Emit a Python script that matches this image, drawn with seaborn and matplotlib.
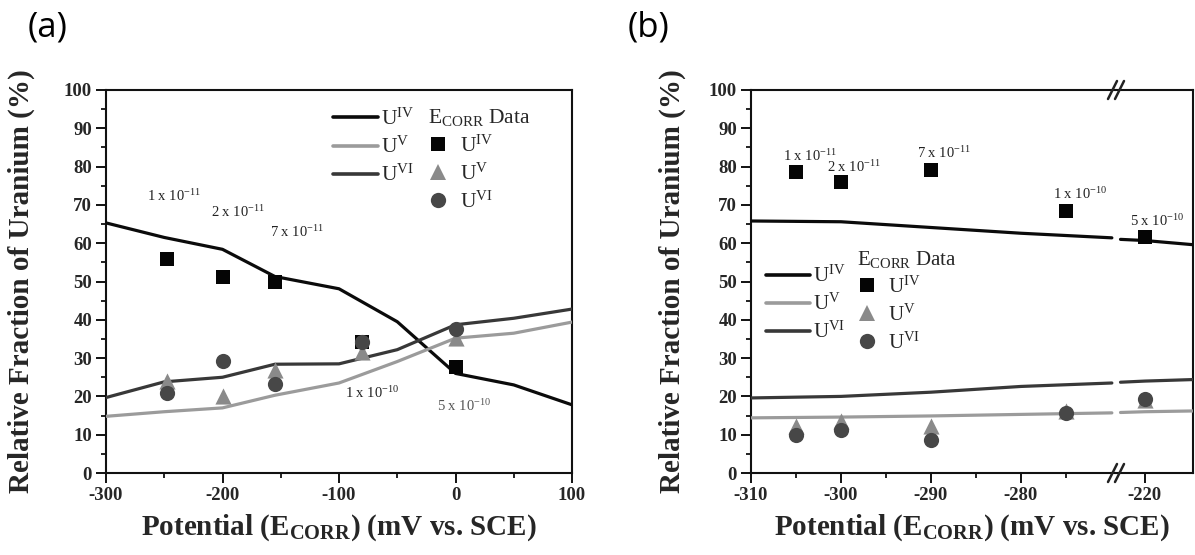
import numpy as np
import pandas as pd
import matplotlib
matplotlib.use("Agg")
import matplotlib.pyplot as plt
from matplotlib.lines import Line2D
from matplotlib.ticker import FixedLocator
import seaborn as sns

sns.set_theme(style="ticks")
plt.rcParams.update({
    "font.family": ["Liberation Serif", "DejaVu Serif"],
    "mathtext.fontset": "custom",
    "mathtext.rm": "Liberation Serif",
    "mathtext.it": "Liberation Serif:italic",
    "mathtext.bf": "Liberation Serif:bold",
    "axes.edgecolor": "#111111",
    "axes.linewidth": 1.5,
})

# ---------------- data: panel (a) ----------------
pot_a = [-248, -200, -155, -80, 0]                 # E_corr potentials (mV vs SCE)
u4_data_a = [55.8, 51.2, 49.8, 34.3, 27.6]
u5_data_a = [24.1, 20.0, 27.0, 31.6, 35.2]
u6_data_a = [20.8, 29.3, 23.3, 34.2, 37.6]

model_x_a = [-300, -250, -200, -155, -100, -50, 0, 50, 100]
u4_model_a = [65.3, 61.5, 58.4, 51.3, 48.1, 39.5, 26.0, 23.0, 17.8]
u5_model_a = [14.8, 16.0, 17.0, 20.3, 23.5, 29.1, 35.2, 36.5, 39.4]
u6_model_a = [19.7, 23.8, 25.0, 28.4, 28.5, 32.2, 38.7, 40.4, 42.8]

rate_labels_a = ["1 x 10$^{-11}$", "2 x 10$^{-11}$", "7 x 10$^{-11}$",
                 "1 x 10$^{-10}$", "5 x 10$^{-10}$"]
rate_pos_a = [(-264.7, 71.0), (-209.5, 66.9), (-158.9, 61.7),
              (-95.2, 19.7), (-15.9, 16.1)]

# ---------------- data: panel (b) ----------------
pot_b = [-305, -300, -290, -275, -220]
u4_data_b = [78.5, 76.0, 79.0, 68.5, 61.7]
u5_data_b = [12.4, 13.5, 12.4, 16.3, 19.1]
u6_data_b = [10.0, 11.3, 8.7, 15.7, 19.4]

model_x_b1 = [-310, -300, -290, -280, -269.9]
model_x_b2 = [-222.7, -220, -214.6]
u4_model_b1 = [65.8, 65.6, 64.1, 62.6, 61.4]
u4_model_b2 = [61.0, 60.7, 59.6]
u5_model_b1 = [14.4, 14.6, 14.9, 15.3, 15.7]
u5_model_b2 = [15.8, 16.0, 16.2]
u6_model_b1 = [19.6, 20.0, 21.1, 22.6, 23.5]
u6_model_b2 = [23.7, 24.0, 24.4]

rate_labels_b = ["1 x 10$^{-11}$", "2 x 10$^{-11}$", "7 x 10$^{-11}$",
                 "1 x 10$^{-10}$", "5 x 10$^{-10}$"]
rate_pos_b = [(-306.4, 81.4), (-301.5, 78.7), (-291.5, 82.3),
              (-276.4, 71.5), (-221.7, 64.4)]

# ---------------- ticks ----------------
yticks = [0, 10, 20, 30, 40, 50, 60, 70, 80, 90, 100]
ytick_labels = ["0", "10", "20", "30", "40", "50", "60", "70", "80", "90", "100"]
xticks_a = [-300, -200, -100, 0, 100]
xtick_labels_a = ["-300", "-200", "-100", "0", "100"]
xticks_b = [-310, -300, -290, -280]
xtick_labels_b = ["-310", "-300", "-290", "-280"]
xticks_b2 = [-220]
xtick_labels_b2 = ["-220"]

species = ["U$^{\\mathrm{IV}}$", "U$^{\\mathrm{V}}$", "U$^{\\mathrm{VI}}$"]
line_colors = {"IV": "#0b0b0b", "V": "#9b9b9b", "VI": "#383838"}
mark_colors = {"IV": "#050505", "V": "#8a8a8a", "VI": "#474747"}
markers = {"IV": "s", "V": "^", "VI": "o"}
msizes = {"IV": 100, "V": 135, "VI": 120}

W, H = 1195, 555
fig = plt.figure(figsize=(W / 100, H / 100), dpi=100)
fig.patch.set_facecolor("white")

axA = fig.add_axes([106 / W, 1 - 473 / H, 466 / W, 383 / H])
axB = fig.add_axes([751 / W, 1 - 473 / H, 365 / W, 383 / H])
axB2 = fig.add_axes([1116 / W, 1 - 473 / H, 77 / W, 383 / H], sharey=axB)


def model_frame(xs_list, series):
    rows = []
    for key, segs in series.items():
        for seg_id, (xs, ys) in enumerate(zip(xs_list, segs)):
            for x, y in zip(xs, ys):
                rows.append({"x": x, "frac": y, "sp": key, "seg": seg_id})
    return pd.DataFrame(rows)


def draw_points(ax, pot, u4, u5, u6):
    for key, vals in (("IV", u4), ("V", u5), ("VI", u6)):
        sns.scatterplot(x=pot, y=vals, marker=markers[key], color=mark_colors[key],
                        s=msizes[key], linewidth=0, ax=ax, zorder=4, legend=False)


def draw_models(ax, df):
    sns.lineplot(data=df, x="x", y="frac", hue="sp", units="seg", estimator=None,
                 sort=False, palette=line_colors, linewidth=2.3, legend=False,
                 ax=ax, zorder=3)


def style_y(ax):
    ax.set_ylim(0, 100)
    ax.yaxis.set_major_locator(FixedLocator(yticks))
    ax.set_yticklabels(ytick_labels, fontweight="bold", fontsize=13.5)
    ax.yaxis.set_minor_locator(FixedLocator([v + 5 for v in yticks[:-1]]))


def style_ticks(ax):
    ax.tick_params(which="major", direction="out", length=7, width=1.4,
                   color="#111111", pad=3)
    ax.tick_params(which="minor", direction="out", length=3.5, width=1.3,
                   color="#111111")


# ---------------- panel (a) ----------------
df_a = model_frame([model_x_a], {"IV": [u4_model_a], "V": [u5_model_a],
                                 "VI": [u6_model_a]})
draw_models(axA, df_a)
draw_points(axA, pot_a, u4_data_a, u5_data_a, u6_data_a)
axA.set_xlim(-300, 100)
axA.xaxis.set_major_locator(FixedLocator(xticks_a))
axA.set_xticklabels(xtick_labels_a, fontweight="bold", fontsize=13.5)
axA.xaxis.set_minor_locator(FixedLocator([v + 50 for v in xticks_a[:-1]]))
style_y(axA)
style_ticks(axA)
for (x, y), lab, col in zip(rate_pos_a, rate_labels_a,
                            ["#222", "#222", "#222", "#222", "#555"]):
    axA.text(x, y, lab, fontsize=10.5, color=col, ha="left", va="baseline")

# ---------------- panel (b) ----------------
df_b = model_frame([model_x_b1, model_x_b2],
                   {"IV": [u4_model_b1, u4_model_b2],
                    "V": [u5_model_b1, u5_model_b2],
                    "VI": [u6_model_b1, u6_model_b2]})
for ax in (axB, axB2):
    draw_models(ax, df_b)
    draw_points(ax, pot_b, u4_data_b, u5_data_b, u6_data_b)
    style_y(ax)
    style_ticks(ax)

axB.set_xlim(-310, -269.44)
axB.xaxis.set_major_locator(FixedLocator(xticks_b))
axB.set_xticklabels(xtick_labels_b, fontweight="bold", fontsize=13.5)
axB.xaxis.set_minor_locator(FixedLocator([v + 5 for v in xticks_b]))
axB.spines["right"].set_visible(False)

axB2.set_xlim(-223.2, -214.65)
axB2.xaxis.set_major_locator(FixedLocator(xticks_b2))
axB2.set_xticklabels(xtick_labels_b2, fontweight="bold", fontsize=13.5)
axB2.xaxis.set_minor_locator(FixedLocator([]))
axB2.spines["left"].set_visible(False)
axB2.tick_params(axis="y", which="both", left=False, labelleft=False)
axB2.set_ylabel("")
axB2.set_xlabel("")

for (x, y), lab in zip(rate_pos_b, rate_labels_b):
    target = axB2 if x > -260 else axB
    target.text(x, y, lab, fontsize=10.5, color="#222", ha="left", va="baseline")

# axis break marks
for yb in (90, 473):
    for dx in (-3.5, 3.5):
        xc = 1116 + dx
        fig.add_artist(Line2D([(xc - 4.5) / W, (xc + 4.5) / W],
                              [1 - (yb + 9) / H, 1 - (yb - 9) / H],
                              transform=fig.transFigure, color="#222222",
                              linewidth=1.8))

# ---------------- labels ----------------
xlab = "Potential (E$_{\\mathbf{CORR}}$) (mV vs. SCE)"
ylab = "Relative Fraction of Uranium (%)"
axA.set_xlabel(xlab, fontsize=21, fontweight="bold")
axA.xaxis.set_label_coords(0.5, -0.104)
axA.set_ylabel(ylab, fontsize=21, fontweight="bold")
axA.yaxis.set_label_coords(-0.152, 0.5)

axB.set_xlabel(xlab, fontsize=21, fontweight="bold")
axB.xaxis.set_label_coords(0.605, -0.104)
axB.set_ylabel(ylab, fontsize=21, fontweight="bold")
axB.yaxis.set_label_coords(-0.178, 0.5)

# ---------------- legends ----------------
def add_legends(ax, line_anchor, mark_anchor, fs):
    line_handles = [Line2D([], [], color=line_colors[k], linewidth=2.6)
                    for k in ("IV", "V", "VI")]
    leg1 = ax.legend(line_handles, species, loc="center left",
                     bbox_to_anchor=line_anchor, frameon=False, fontsize=fs,
                     handlelength=2.1, handletextpad=0.15, labelspacing=0.32,
                     borderpad=0, borderaxespad=0)
    ax.add_artist(leg1)
    mark_handles = [Line2D([], [], color=mark_colors[k], marker=markers[k],
                           linestyle="None", markersize=ms, markeredgewidth=0)
                    for k, ms in (("IV", 10), ("V", 11.5), ("VI", 11))]
    leg2 = ax.legend(mark_handles, species, loc="center left",
                     bbox_to_anchor=mark_anchor, frameon=False, fontsize=fs,
                     handlelength=1.0, handletextpad=0.5, labelspacing=0.32,
                     borderpad=0, borderaxespad=0,
                     title="E$_{\\mathrm{CORR}}$ Data", title_fontsize=fs,
                     alignment="left")
    return leg2


add_legends(axA, (0.487, 0.85), (0.69, 0.817), 15.5)
add_legends(axB, (0.041, 0.44), (0.29, 0.449), 15)

# panel letters
for xpix, letter in ((28, "(a)"), (628, "(b)")):
    fig.text(xpix / W, 1 - 10 / H, letter, fontsize=25, family="Open Sans",
             ha="left", va="top", color="black")

fig.savefig("out.png", dpi=100, facecolor="white")
